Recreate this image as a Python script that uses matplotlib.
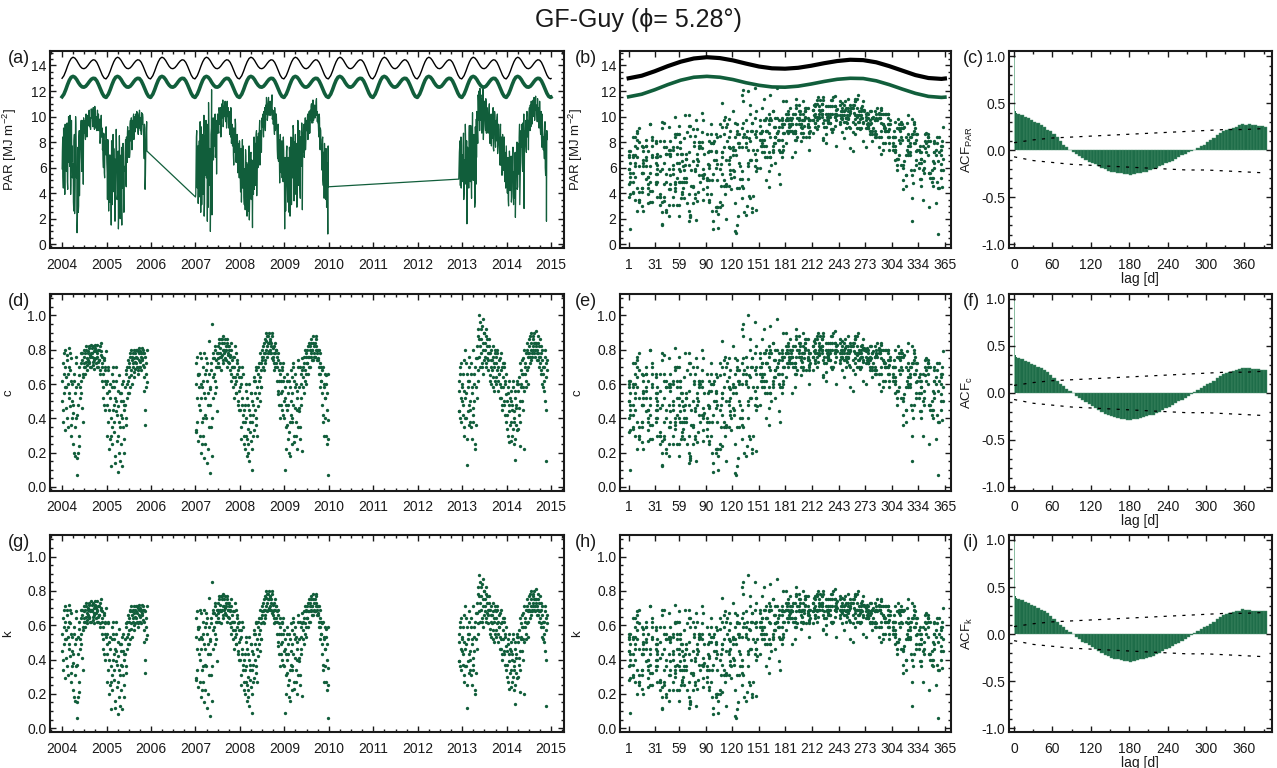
import datetime as dt
import numpy as np
import matplotlib
matplotlib.use("Agg")
import matplotlib.pyplot as plt
from matplotlib.ticker import MultipleLocator, FixedLocator

GREEN = "#115e3b"
BAR = "#1e6d49"
PALE = "#8cbfa3"
INK = "#1a1a1a"

plt.rcParams.update({
    "font.family": ["Liberation Sans", "DejaVu Sans"],
    "font.size": 10,
    "mathtext.default": "regular",
    "axes.unicode_minus": False,
    "axes.linewidth": 1.5, "axes.edgecolor": INK,
    "text.color": INK, "axes.labelcolor": INK,
    "xtick.color": INK, "ytick.color": INK,
    "xtick.direction": "in", "ytick.direction": "in",
    "xtick.top": True, "ytick.right": True,
    "xtick.major.size": 4.5, "ytick.major.size": 4.5,
    "xtick.minor.size": 2.2, "ytick.minor.size": 2.2,
    "xtick.major.width": 1.0, "ytick.major.width": 1.0,
    "xtick.minor.width": 1.0, "ytick.minor.width": 1.0,
    "xtick.major.pad": 7, "ytick.major.pad": 2.5,
})

# ---- daily samples, two interleaved sets of 6 per month, months split by "|" ----
DAY_SLOTS = [3, 8, 13, 18, 23, 28]
DAY_SLOTS_B = [1, 6, 11, 16, 21, 26]

# PAR in 0.1 MJ m-2
PAR = {
    (2004, 1): "73 53 91 64 39 82|71 91 49 81 100 64|61 88 46 97 77 55|33 81 24 72 94 52|9 61 25 83 38 74|89 68 97 79 47 87|94 87 99 91 84 97|95 104 92 99 90 106|101 95 107 98 90 104|91 100 97 105 89 94|96 79 92 101 86 74|67 87 56 81 72 92",
    (2005, 1): "64 35 80 26 53 70|49 15 71 43 86 59|41 67 23 57 80 35|62 12 50 72 20 55|32 76 44 64 25 57|72 50 84 64 92 77|87 68 94 81 99 74|92 100 82 96 88 102|99 91 103 86 96 105|93 99 86 95 102 90|77 94 43 70 86 73",
    (2007, 1): "39 84 61 76 32 68|55 96 25 74 47 86|39 71 22 85 54 97|81 18 63 111 46 75|10 86 121 51 95 66|82 99 68 92 55 87|97 89 107 94 100 84|108 99 113 95 102 101|98 107 91 112 101 95|102 86 98 107 79 94|84 70 91 77 98 66|72 86 56 79 65 81",
    (2008, 1): "53 70 33 61 44 77|37 59 27 69 49 22|44 32 58 19 49 71|35 66 13 55 81 43|70 51 86 38 74 60|77 89 62 84 72 94|92 102 84 97 107 89|102 113 97 108 115 101|111 101 107 114 98 105|99 91 107 89 102 97|74 89 65 82 48 86|64 79 52 72 84 58",
    (2009, 1): "12 61 41 73 53 33|59 25 71 47 84 31|71 52 93 39 80 59|50 79 29 68 92 58|74 44 84 61 95 27|79 89 68 84 74 94|89 99 82 94 104 87|100 108 95 102 113 97|107 99 104 112 101 96|95 89 102 84 91 79|66 82 50 72 36 62|46 75 29 64 8 45",
    (2012, 12): "51 72 81 60 44 67",
    (2013, 1): "56 77 35 66 47 84|68 16 76 54 44 93|65 49 85 36 75 54|60 79 29 92 47 68|95 79 112 120 89 104|107 89 117 99 82 112|104 94 114 87 107 97|95 105 83 100 90 77|88 99 75 94 104 81|91 81 99 71 89 84|72 90 62 82 54 86|67 81 56 72 44 77",
    (2014, 1): "49 64 35 56 73 42|62 33 55 71 42 49|49 67 21 59 77 43|73 55 84 31 66 89|84 64 95 74 28 89|89 77 99 84 97 74|102 94 109 92 104 97|110 102 115 97 108 105|104 96 109 101 91 112|91 99 84 102 89 74|74 91 60 86 18 82",
}
PAR_B = {
    (2004, 1): "59 84 44 77 68 94|79 57 95 43 74 86|71 101 39 80 65 52|63 26 86 46 100 76|53 22 76 30 89 66|77 97 57 92 82 99|89 97 82 102 93 88|101 93 105 97 90 100|99 105 92 103 96 108|103 95 89 99 93 102|89 98 82 95 84 91|77 60 86 52 79 70",
    (2005, 1): "73 56 82 44 66 33|64 37 81 31 55 76|75 49 18 65 90 54|39 73 26 85 46 66|70 15 51 79 36 61|60 82 45 74 87 68|79 89 72 97 84 92|97 90 102 86 100 93|94 104 98 88 101 91|100 89 97 103 94 99|84 67 91 54 79 96",
    (2007, 1): "37 70 89 44 77 56|81 37 64 92 31 71|80 52 101 32 67 88|52 94 72 29 86 63|74 44 91 23 81 99|93 77 102 72 87 97|102 93 87 104 97 107|97 110 102 92 108 100|112 96 104 109 100 107|91 104 97 84 102 89|77 91 62 84 72 94|64 77 84 58 74 52",
    (2008, 1): "68 41 75 56 82 49|55 31 47 74 37 64|36 62 26 77 41 54|72 50 29 63 39 84|57 79 46 89 66 84|87 68 97 79 89 72|99 94 87 104 97 92|109 115 105 100 113 108|104 112 101 109 117 99|94 104 86 99 91 102|84 67 94 74 58 79|72 56 81 65 49 74",
    (2009, 1): "47 68 26 56 77 42|68 39 76 22 62 52|49 83 62 90 34 75|86 39 73 59 97 46|58 89 36 76 66 86|87 72 94 77 99 82|97 89 102 94 87 99|105 97 110 102 95 108|101 109 99 107 114 104|102 94 84 99 74 89|74 58 84 46 70 79|60 35 70 52 32 77",
    (2012, 12): "51 65 77 46 84 58",
    (2013, 1): "70 49 87 41 61 94|49 81 34 71 59 86|80 58 93 45 71 103|50 86 66 33 76 98|104 86 117 97 109 122|97 114 87 104 122 92|112 99 89 109 102 93|87 100 110 79 95 102|96 83 107 73 91 101|76 97 86 102 79 94|79 62 94 70 84 58|74 58 84 49 70 63",
    (2014, 1): "59 40 68 30 51 61|47 69 37 59 76 31|57 36 72 46 62 80|45 79 60 94 50 76|76 94 57 84 102 71|82 97 72 104 87 94|97 107 89 99 112 94|105 113 100 108 102 116|109 101 114 96 107 99|97 86 104 76 94 84|84 67 96 54 77 89",
}

# clearness index c in 0.01
C = {
    (2004, 1): "62 45 78 55 33 70|58 74 40 66 81 52|47 68 36 75 60 43|25 62 18 55 72 40|7 48 20 65 30 58|72 55 78 64 38 70|76 70 80 73 68 78|74 81 72 77 70 83|78 73 82 75 69 80|72 79 76 83 70 74|80 66 77 84 72 62|58 75 48 70 62 79",
    (2005, 1): "55 30 68 22 45 60|40 12 58 35 70 48|32 52 18 44 62 27|47 9 38 55 15 42|25 60 35 50 20 45|58 40 68 52 74 62|70 55 76 65 80 60|72 78 64 75 69 80|76 70 79 66 74 81|73 78 68 75 80 71|64 78 36 58 72 61",
    (2007, 1): "33 72 52 65 27 58|45 78 20 60 38 70|30 55 17 66 42 75|62 14 48 85 35 57|8 68 95 40 75 52|66 80 55 74 44 70|78 72 86 76 81 68|84 77 88 74 80 79|75 82 70 86 78 73|80 68 77 84 62 74|70 58 76 64 82 55|62 74 48 68 56 70",
    (2008, 1): "45 60 28 52 38 66|30 48 22 56 40 18|34 25 45 15 38 55|27 50 10 42 62 33|55 40 68 30 58 47|62 72 50 68 58 76|74 82 68 78 86 72|80 88 76 84 90 79|85 78 82 88 75 81|78 72 84 70 80 76|62 74 54 68 40 72|55 68 45 62 72 50",
    (2009, 1): "10 52 35 62 45 28|48 20 58 38 68 25|55 40 72 30 62 46|38 60 22 52 70 44|58 35 66 48 75 21|64 72 55 68 60 76|72 80 66 76 84 70|78 84 74 80 88 76|82 76 80 86 78 74|75 70 80 66 72 62|55 68 42 60 30 52|40 65 25 55 7 39",
    (2012, 12): "44 62 70 52 38 58",
    (2013, 1): "48 66 30 56 40 72|55 13 62 44 36 76|50 38 66 28 58 42|46 60 22 70 36 52|75 62 88 100 70 82|86 72 94 80 66 90|84 76 92 70 86 78|74 82 65 78 70 60|68 76 58 72 80 62|72 64 78 56 70 66|60 75 52 68 45 72|58 70 48 62 38 66",
    (2014, 1): "42 55 30 48 62 36|50 27 45 58 34 40|38 52 16 46 60 33|56 42 64 24 50 68|66 50 75 58 22 70|72 62 80 68 78 60|82 76 88 74 84 78|86 80 90 76 84 82|80 74 84 78 70 86|72 78 66 80 70 58|62 76 50 72 15 68",
}
C_B = {
    (2004, 1): "50 72 38 66 58 80|64 46 77 35 60 70|55 78 30 62 50 40|48 20 66 35 76 58|42 17 60 24 70 52|62 78 46 74 66 80|72 78 66 82 75 71|79 73 82 76 70 78|76 81 71 79 74 83|81 75 70 78 73 80|74 82 68 79 70 76|66 52 74 45 68 60",
    (2005, 1): "62 48 70 38 56 28|52 30 66 25 45 62|58 38 14 50 70 42|30 56 20 65 35 50|55 12 40 62 28 48|48 66 36 60 70 55|64 72 58 78 68 74|76 70 80 67 78 73|72 80 75 68 78 70|79 70 76 81 74 78|70 56 76 45 66 80",
    (2007, 1): "32 60 76 38 66 48|66 30 52 75 25 58|62 40 78 25 52 68|40 72 55 22 66 48|58 35 72 18 64 78|75 62 82 58 70 78|82 75 70 84 78 86|76 86 80 72 84 78|86 74 80 84 77 82|72 82 76 66 80 70|64 76 52 70 60 78|55 66 72 50 64 45",
    (2008, 1): "58 35 64 48 70 42|45 25 38 60 30 52|28 48 20 60 32 42|55 38 22 48 30 64|45 62 36 70 52 66|70 55 78 64 72 58|80 76 70 84 78 74|85 90 82 78 88 84|80 86 78 84 90 76|74 82 68 78 72 80|70 56 78 62 48 66|62 48 70 56 42 64",
    (2009, 1): "40 58 22 48 66 36|55 32 62 18 50 42|38 64 48 70 26 58|66 30 56 45 74 35|46 70 28 60 52 68|70 58 76 62 80 66|78 72 82 76 70 80|82 76 86 80 74 84|78 84 76 82 88 80|80 74 66 78 58 70|62 48 70 38 58 66|52 30 60 45 28 66",
    (2012, 12): "44 56 66 40 72 50",
    (2013, 1): "60 42 74 35 52 80|40 66 28 58 48 70|62 45 72 35 55 80|38 66 50 25 58 75|82 68 92 76 86 96|78 92 70 84 98 74|90 80 72 88 82 75|68 78 86 62 74 80|74 64 82 56 70 78|60 76 68 80 62 74|66 52 78 58 70 48|64 50 72 42 60 54",
    (2014, 1): "50 34 58 26 44 52|38 56 30 48 62 25|44 28 56 36 48 62|34 60 46 72 38 58|60 74 45 66 80 56|66 78 58 84 70 76|78 86 72 80 90 76|82 88 78 84 80 91|84 78 88 74 82 76|76 68 82 60 74 66|70 56 80 45 64 74",
}

# k in 0.01
K = {
    (2004, 1): "55 40 69 49 29 62|52 66 36 59 72 46|42 61 32 67 53 38|22 55 16 49 64 36|6 43 18 58 27 52|64 49 69 57 34 62|68 62 71 65 61 69|66 72 64 69 62 74|69 65 73 67 61 71|64 70 68 74 62 66|71 59 69 75 64 55|52 67 43 62 55 70",
    (2005, 1): "49 27 61 20 40 53|36 11 52 31 62 43|28 46 16 39 55 24|42 8 34 49 13 37|22 53 31 45 18 40|52 36 61 46 66 55|62 49 68 58 71 53|64 69 57 67 61 71|68 62 70 59 66 72|65 69 61 67 71 63|57 69 32 52 64 54",
    (2007, 1): "29 64 46 58 24 52|40 69 18 53 34 62|27 49 15 59 37 67|55 12 43 76 31 51|7 61 85 36 67 46|59 71 49 66 39 62|69 64 77 68 72 61|75 69 78 66 71 70|67 73 62 77 69 65|71 61 69 75 55 66|62 52 68 57 73 49|55 66 43 61 50 62",
    (2008, 1): "40 53 25 46 34 59|27 43 20 50 36 16|30 22 40 13 34 49|24 45 9 37 55 29|49 36 61 27 52 42|55 64 45 61 52 68|66 73 61 69 77 64|71 78 68 75 80 70|76 69 73 78 67 72|69 64 75 62 71 68|55 66 48 61 36 64|49 61 40 55 64 45",
    (2009, 1): "9 46 31 55 40 25|43 18 52 34 61 22|49 36 64 27 55 41|34 53 20 46 62 39|52 31 59 43 67 19|57 64 49 61 53 68|64 71 59 68 75 62|69 75 66 71 78 68|73 68 71 77 69 66|67 62 71 59 64 55|49 61 37 53 27 46|36 58 22 49 6 35",
    (2012, 12): "39 55 62 46 34 52",
    (2013, 1): "43 59 27 50 36 64|49 12 55 39 32 68|45 34 59 25 52 37|41 53 20 62 32 46|67 55 78 89 62 73|77 64 84 71 59 80|75 68 82 62 77 69|66 73 58 69 62 53|61 68 52 64 71 55|64 57 69 50 62 59|53 67 46 61 40 64|52 62 43 55 34 59",
    (2014, 1): "37 49 27 43 55 32|45 24 40 52 30 36|34 46 14 41 53 29|50 37 57 21 45 61|59 45 67 52 20 62|64 55 71 61 69 53|73 68 78 66 75 69|77 71 80 68 75 73|71 66 75 69 62 77|64 69 59 71 62 52|55 68 45 64 13 61",
}
K_B = {
    (2004, 1): "45 64 34 59 52 71|57 41 69 31 53 62|49 69 27 55 45 36|43 18 59 31 68 52|37 15 53 21 62 46|55 69 41 66 59 71|64 69 59 73 67 63|70 65 73 68 62 69|68 72 63 70 66 74|72 67 62 69 65 71|66 73 61 70 62 68|59 46 66 40 61 53",
    (2005, 1): "55 43 62 34 50 25|46 27 59 22 40 55|52 34 12 45 62 37|27 50 18 58 31 45|49 11 36 55 25 43|43 59 32 53 62 49|57 64 52 69 61 66|68 62 71 60 69 65|64 71 67 61 69 62|70 62 68 72 66 69|62 50 68 40 59 71",
    (2007, 1): "28 53 68 34 59 43|59 27 46 67 22 52|55 36 69 22 46 61|36 64 49 20 59 43|52 31 64 16 57 69|67 55 73 52 62 69|73 67 62 75 69 77|68 77 71 64 75 69|77 66 71 75 69 73|64 73 68 59 71 62|57 68 46 62 53 69|49 59 64 45 57 40",
    (2008, 1): "52 31 57 43 62 37|40 22 34 53 27 46|25 43 18 53 28 37|49 34 20 43 27 57|40 55 32 62 46 59|62 49 69 57 64 52|71 68 62 75 69 66|76 80 73 69 78 75|71 77 69 75 80 68|66 73 61 69 64 71|62 50 69 55 43 59|55 43 62 50 37 57",
    (2009, 1): "36 52 20 43 59 32|49 28 55 16 45 37|34 57 43 62 23 52|59 27 50 40 66 31|41 62 25 53 46 61|62 52 68 55 71 59|69 64 73 68 62 71|73 68 77 71 66 75|69 75 68 73 78 71|71 66 59 69 52 62|55 43 62 34 52 59|46 27 53 40 25 59",
    (2012, 12): "39 50 59 36 64 45",
    (2013, 1): "53 37 66 31 46 71|36 59 25 52 43 62|55 40 64 31 49 71|34 59 45 22 52 67|73 61 82 68 77 85|69 82 62 75 87 66|80 71 64 78 73 67|61 69 77 55 66 71|66 57 73 50 62 69|53 68 61 71 55 66|59 46 69 52 62 43|57 45 64 37 53 48",
    (2014, 1): "45 30 52 23 39 46|34 50 27 43 55 22|39 25 50 32 43 55|30 53 41 64 34 52|53 66 40 59 71 50|59 69 52 75 62 68|69 77 64 71 80 68|73 78 69 75 71 81|75 69 78 66 73 68|68 61 73 53 66 59|62 50 71 40 57 66",
}

# top-of-atmosphere (black) and clear-sky (green) PAR by day of year
CURVE_DOY = [1, 16, 31, 46, 61, 76, 91, 106, 121, 136, 151, 166, 181,
             196, 211, 226, 241, 256, 271, 286, 301, 316, 331, 346, 361, 365]
PAR_TOA = [13.00, 13.20, 13.55, 13.95, 14.30, 14.55, 14.65, 14.58, 14.40, 14.15,
           13.92, 13.78, 13.75, 13.82, 13.98, 14.18, 14.35, 14.45, 14.42, 14.25,
           13.95, 13.60, 13.25, 13.02, 12.95, 12.98]
PAR_CLEAR = [11.55, 11.75, 12.10, 12.50, 12.85, 13.08, 13.15, 13.08, 12.90, 12.65,
             12.45, 12.32, 12.30, 12.38, 12.55, 12.75, 12.92, 13.00, 12.98, 12.80,
             12.50, 12.15, 11.82, 11.58, 11.50, 11.52]
CURVE_YEARS = list(range(2004, 2015))

# autocorrelation: lags 0-4, then every 5 days from 5 to 390
ACF_HEAD_LAG = [0, 1, 2, 3, 4]
ACF_LAG = list(range(5, 395, 5))
ACF_PAR = [1.00, 0.50, 0.42, 0.40, 0.39,
           .38, .37, .35, .34, .32, .30, .29, .27, .25, .22,
           .20, .17, .14, .10, .06, .03, .00, -.02, -.04, -.06,
           -.08, -.10, -.12, -.14, -.15, -.17, -.19, -.20, -.22, -.23,
           -.23, -.24, -.24, -.25, -.25, -.26, -.25, -.24, -.24, -.23,
           -.23, -.21, -.20, -.19, -.17, -.16, -.14, -.13, -.11, -.09,
           -.07, -.05, -.04, -.02, -.01, .00, .02, .04, .06, .09,
           .11, .13, .16, .18, .20, .21, .23, .24, .25, .27,
           .28, .27, .28, .27, .27, .26, .26, .25]
ACF_C = [1.00, 0.48, 0.40, 0.38, 0.37,
         .37, .36, .34, .33, .31, .30, .28, .26, .24, .22,
         .19, .16, .13, .10, .07, .04, .02, .00, -.03, -.05,
         -.08, -.10, -.12, -.14, -.16, -.18, -.20, -.22, -.23, -.25,
         -.26, -.27, -.28, -.28, -.29, -.29, -.28, -.28, -.27, -.26,
         -.25, -.24, -.23, -.21, -.20, -.18, -.16, -.15, -.13, -.11,
         -.09, -.07, -.05, -.03, -.01, .01, .03, .05, .07, .09,
         .11, .13, .16, .18, .20, .21, .22, .23, .24, .25,
         .27, .26, .26, .25, .25, .25, .24, .24]
ACF_K = [1.00, 0.48, 0.40, 0.38, 0.37,
         .37, .36, .34, .33, .31, .30, .28, .26, .24, .22,
         .19, .16, .13, .10, .07, .04, .02, .00, -.03, -.05,
         -.08, -.10, -.12, -.14, -.16, -.18, -.20, -.22, -.23, -.25,
         -.26, -.27, -.28, -.29, -.29, -.30, -.29, -.28, -.27, -.26,
         -.25, -.24, -.23, -.21, -.20, -.18, -.16, -.15, -.13, -.11,
         -.09, -.07, -.05, -.03, -.01, .01, .03, .05, .07, .09,
         .11, .13, .16, .18, .20, .21, .22, .23, .24, .25,
         .27, .26, .26, .25, .25, .25, .24, .24]
CONF_LAG = [0, 30, 60, 90, 120, 150, 180, 210, 240, 270, 300, 330, 360, 390]
CONF_UP = [.08, .11, .13, .14, .15, .16, .17, .18, .19, .20, .21, .22, .22, .23]
CONF_LO = [-.07, -.11, -.13, -.15, -.16, -.17, -.18, -.19, -.20, -.21, -.21, -.22, -.23, -.24]

YEAR_TICKS = list(range(2004, 2016))
DOY_TICKS = [1, 31, 59, 90, 120, 151, 181, 212, 243, 273, 304, 334, 365]


def unpack(table, slots, scale):
    xs, doys, vals = [], [], []
    for (year, m0), text in table.items():
        ndays = 366 if year % 4 == 0 else 365
        for i, month in enumerate(text.split("|")):
            for d, v in zip(slots, month.split()):
                doy = dt.date(year, m0 + i, d).timetuple().tm_yday
                xs.append(year + (doy - 0.5) / ndays)
                doys.append(doy)
                vals.append(float(v) * scale)
    return xs, doys, vals


def series(a, b, scale):
    x1, d1, v1 = unpack(a, DAY_SLOTS, scale)
    x2, d2, v2 = unpack(b, DAY_SLOTS_B, scale)
    x = np.array(x1 + x2)
    order = np.argsort(x)
    return x[order], np.array(d1 + d2)[order], np.array(v1 + v2)[order]


t, doy, par = series(PAR, PAR_B, 0.1)
_, _, cc = series(C, C_B, 0.01)
_, _, kk = series(K, K_B, 0.01)

curve_t = np.concatenate([y + (np.array(CURVE_DOY) - 1) / 365.0 for y in CURVE_YEARS])
toa_t = np.tile(PAR_TOA, len(CURVE_YEARS))
clear_t = np.tile(PAR_CLEAR, len(CURVE_YEARS))

fig = plt.figure(figsize=(12.77, 7.68), dpi=100)
fig.text(0.5, 1 - 20 / 768, "GF-Guy (\u03d5= 5.28\u00b0)", ha="center", va="center", fontsize=18)

ROWS = [0.677, 0.361, 0.047]
H = 0.256
COLS = [(0.0392, 0.4025), (0.4855, 0.2592), (0.7901, 0.2059)]
LABEL_X = [8 / 1277, 575 / 1277, 963 / 1277]
LETTERS = "abcdefghi"


def axes(r, c):
    left, w = COLS[c]
    ax = fig.add_axes([left, ROWS[r], w, H])
    fig.text(LABEL_X[c], ROWS[r] + H + 0.002, f"({LETTERS[3 * r + c]})",
             ha="left", va="top", fontsize=13)
    return ax


def time_axis(ax):
    ax.set_xlim(2003.73, 2015.29)
    ax.xaxis.set_major_locator(FixedLocator(YEAR_TICKS))
    ax.xaxis.set_minor_locator(MultipleLocator(0.25))


def doy_axis(ax):
    ax.set_xlim(-9, 372)
    ax.xaxis.set_major_locator(FixedLocator(DOY_TICKS))


def par_y(ax):
    ax.set_ylim(-0.3, 15.1)
    ax.yaxis.set_major_locator(MultipleLocator(2))
    ax.yaxis.set_minor_locator(MultipleLocator(0.5))


def frac_y(ax):
    ax.set_ylim(-0.022, 1.124)
    ax.yaxis.set_major_locator(MultipleLocator(0.2))
    ax.yaxis.set_minor_locator(MultipleLocator(0.05))
    ax.yaxis.set_major_formatter(lambda v, p: f"{v:.1f}")


def dots(ax, x, y):
    ax.plot(x, y, "o", ms=2.4, mew=0, color=GREEN)


def ylabel(ax, text, xpos):
    ax.set_ylabel(text, fontsize=9.5)
    ax.yaxis.set_label_coords(xpos, 0.5)


def acf_panel(ax, vals, name):
    head = vals[:5]
    ax.bar(ACF_HEAD_LAG, head, width=1, align="edge", color=[PALE] + [BAR] * 4, lw=0)
    ax.bar(ACF_LAG, vals[5:], width=5, align="edge", color=BAR,
           edgecolor="#4a8f6c", lw=0.3)
    ax.plot(CONF_LAG, CONF_UP, color="black", lw=0.9, ls=(0, (2.5, 5)))
    ax.plot(CONF_LAG, CONF_LO, color="black", lw=0.9, ls=(0, (2.5, 5)))
    ax.set_xlim(-8, 403)
    ax.set_ylim(-1.04, 1.05)
    ax.xaxis.set_major_locator(MultipleLocator(60))
    ax.xaxis.set_minor_locator(MultipleLocator(30))
    ax.yaxis.set_major_locator(MultipleLocator(0.5))
    ax.yaxis.set_minor_locator(MultipleLocator(0.1))
    ax.yaxis.set_major_formatter(lambda v, p: f"{v:.1f}")
    ax.set_xlabel("lag [d]", labelpad=0)
    ylabel(ax, name, -0.13)


# row 1: PAR
ax = axes(0, 0)
ax.plot(t, par, color=GREEN, lw=0.9)
ax.plot(curve_t, toa_t, color="black", lw=1.0)
ax.plot(curve_t, clear_t, color=GREEN, lw=2.6)
time_axis(ax); par_y(ax)
ylabel(ax, "PAR [MJ m$^{-2}$]", -0.06)

ax = axes(0, 1)
dots(ax, doy, par)
ax.plot(CURVE_DOY, PAR_TOA, color="black", lw=3)
ax.plot(CURVE_DOY, PAR_CLEAR, color=GREEN, lw=2.6)
doy_axis(ax); par_y(ax)
ylabel(ax, "PAR [MJ m$^{-2}$]", -0.105)

acf_panel(axes(0, 2), ACF_PAR, "ACF$_{PAR}$")

# rows 2 and 3: c and k
for r, vals, name, acf, aname in [(1, cc, "c", ACF_C, "ACF$_c$"), (2, kk, "k", ACF_K, "ACF$_k$")]:
    ax = axes(r, 0)
    dots(ax, t, vals)
    time_axis(ax); frac_y(ax)
    ylabel(ax, name, -0.07)

    ax = axes(r, 1)
    dots(ax, doy, vals)
    doy_axis(ax); frac_y(ax)
    ylabel(ax, name, -0.11)

    acf_panel(axes(r, 2), acf, aname)

fig.savefig("out.png", dpi=100)
